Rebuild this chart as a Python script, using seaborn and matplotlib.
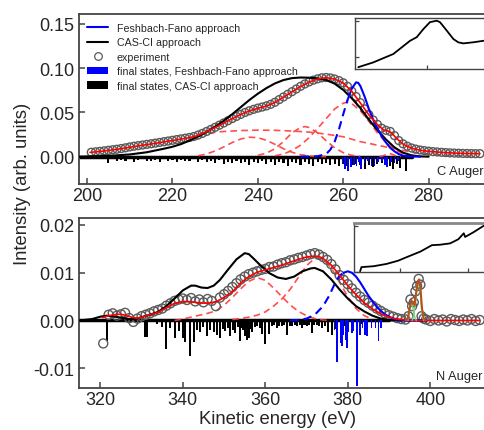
import numpy as np
import matplotlib
matplotlib.use('Agg')
import matplotlib.pyplot as plt
import seaborn as sns
from matplotlib.lines import Line2D
from matplotlib.patches import Patch

# ---------------- C Auger (top panel) ----------------
c_exp_E = [201, 202, 203, 204, 205, 206, 207, 208, 209, 210, 211, 212, 213, 214, 215, 216, 217, 218, 219, 220,
           221, 222, 223, 224, 225, 226, 227, 228, 229, 230, 231, 232, 233, 234, 235, 236, 237, 238, 239, 240,
           241, 242, 243, 244, 245, 246, 247, 248, 249, 250, 251, 252, 253, 254, 255, 256, 257, 258, 259, 260,
           261, 262, 263, 264, 265, 266, 267, 268, 269, 270, 271, 272, 273, 274, 275, 276, 277, 278, 279, 280,
           281, 282, 283, 284, 285, 286, 287, 288, 289, 290, 291, 292]
c_exp_I = [0.0050, 0.0055, 0.0060, 0.0066, 0.0072, 0.0078, 0.0084, 0.0092, 0.0100, 0.0110, 0.0118, 0.0125, 0.0132, 0.0139, 0.0146, 0.0153, 0.0161, 0.0169, 0.0177, 0.0185,
           0.0193, 0.0201, 0.0209, 0.0217, 0.0228, 0.0244, 0.0263, 0.0285, 0.0308, 0.0332, 0.0356, 0.0381, 0.0406, 0.0431, 0.0455, 0.0478, 0.0500, 0.0519, 0.0535, 0.0549,
           0.0561, 0.0574, 0.0592, 0.0615, 0.0645, 0.0675, 0.0705, 0.0735, 0.0765, 0.0795, 0.0822, 0.0845, 0.0865, 0.0880, 0.0892, 0.0895, 0.0890, 0.0878, 0.0860, 0.0835,
           0.0795, 0.0740, 0.0680, 0.0610, 0.0540, 0.0475, 0.0415, 0.0365, 0.0322, 0.0298, 0.0285, 0.0238, 0.0182, 0.0145, 0.0118, 0.0098, 0.0085, 0.0075, 0.0068, 0.0062,
           0.0057, 0.0053, 0.0049, 0.0046, 0.0043, 0.0041, 0.0039, 0.0037, 0.0036, 0.0035, 0.0034, 0.0034]

c_fit_E = [200.7, 204, 208, 212, 216, 220, 224, 226, 228, 230, 232, 234, 236, 238, 240, 242, 244, 246, 248, 250,
           252, 254, 256, 258, 260, 262, 264, 266, 268, 269.5, 270.5, 271.3, 272.5, 274, 276, 278, 280, 284, 288, 292]
c_fit_I = [0.0048, 0.0064, 0.0090, 0.0122, 0.0151, 0.0183, 0.0215, 0.0240, 0.0282, 0.0330, 0.0380, 0.0430, 0.0477, 0.0517, 0.0547, 0.0572, 0.0613, 0.0673, 0.0733, 0.0793,
           0.0843, 0.0878, 0.0893, 0.0877, 0.0833, 0.0738, 0.0608, 0.0473, 0.0362, 0.0300, 0.0290, 0.0270, 0.0205, 0.0142, 0.0095, 0.0073, 0.0060, 0.0045, 0.0037, 0.0034]

c_cas_E = [198, 202, 206, 210, 214, 218, 220, 222, 224, 226, 228, 230, 232, 234, 236, 238, 240, 242, 244, 246,
           248, 250, 252, 254, 256, 258, 260, 262, 264, 266, 268, 270, 272, 274, 276, 278, 280]
c_cas_I = [0.0, 0.0005, 0.0012, 0.0025, 0.0050, 0.0090, 0.0112, 0.0142, 0.0182, 0.0228, 0.0280, 0.0338, 0.0405, 0.0480, 0.0560, 0.0640, 0.0712, 0.0775, 0.0828, 0.0866,
           0.0888, 0.0895, 0.0893, 0.0885, 0.0868, 0.0825, 0.0755, 0.0660, 0.0550, 0.0420, 0.0300, 0.0195, 0.0105, 0.0045, 0.0015, 0.0003, 0.0]

c_ff_dash_E = [250, 254, 256, 257, 258, 259, 260, 261]
c_ff_dash_I = [0.0, 0.0005, 0.0030, 0.0080, 0.0170, 0.0310, 0.0480, 0.0640]
c_ff_E = [261, 262, 263, 263.5, 264, 265, 266, 267, 268, 269, 270, 271, 272, 273, 274, 276, 278]
c_ff_I = [0.0640, 0.0770, 0.0840, 0.0835, 0.0800, 0.0680, 0.0540, 0.0420, 0.0320, 0.0230, 0.0160, 0.0100, 0.0060, 0.0030, 0.0012, 0.0002, 0.0]

# fitted components (red dashed)
c_compA_E = [226, 228, 232, 236, 240, 244, 248, 252, 256, 260, 264, 268, 272, 276, 280, 284, 290]
c_compA_I = [0.0255, 0.0265, 0.0285, 0.0295, 0.0300, 0.0298, 0.0290, 0.0278, 0.0255, 0.0225, 0.0170, 0.0130, 0.0090, 0.0050, 0.0030, 0.0015, 0.0005]
c_compB_E = [226, 228, 230, 232, 234, 236, 238, 240, 242, 244, 246, 248, 250, 252, 254, 256]
c_compB_I = [0.0010, 0.0030, 0.0065, 0.0110, 0.0160, 0.0200, 0.0220, 0.0215, 0.0185, 0.0140, 0.0090, 0.0050, 0.0022, 0.0008, 0.0002, 0.0]
c_compC_E = [240, 242, 244, 246, 248, 250, 251, 252, 254, 256, 258, 260, 262, 264]
c_compC_I = [0.0015, 0.0040, 0.0090, 0.0170, 0.0270, 0.0330, 0.0340, 0.0330, 0.0270, 0.0180, 0.0100, 0.0045, 0.0015, 0.0004]
c_compD_E = [244, 246, 248, 250, 252, 254, 256, 258, 260, 261, 262, 264, 266, 268, 270, 272, 274, 276, 278]
c_compD_I = [0.0010, 0.0030, 0.0070, 0.0130, 0.0215, 0.0320, 0.0430, 0.0540, 0.0605, 0.0615, 0.0600, 0.0520, 0.0400, 0.0270, 0.0160, 0.0080, 0.0035, 0.0012, 0.0003]
c_compE_E = [268.5, 269.5, 270.3, 270.9, 271.6, 272.5, 273.5]
c_compE_I = [0.0, 0.0012, 0.0030, 0.0035, 0.0024, 0.0006, 0.0]

# final states (sticks, plotted downward)
c_cas_st_E = [205, 206, 207, 208, 209, 210, 211, 212, 213, 214, 215, 216, 217, 218, 219, 220, 221, 222, 223, 224,
              225, 226, 227, 228, 229, 230, 231, 232, 233, 234, 235, 236, 237, 238, 239, 240, 241, 242, 243, 244,
              245, 246, 247, 248, 249, 250, 251, 252, 253, 254, 255, 256, 257, 258, 259, 260, 261, 262, 263, 264,
              265, 266, 267, 268, 269, 270, 271, 271.7, 272.5, 273.3, 274.6]
c_cas_st_h = [0.0067, 0.0030, 0.0045, 0.0035, 0.0050, 0.0030, 0.0055, 0.0040, 0.0030, 0.0050, 0.0045, 0.0035, 0.0055, 0.0030, 0.0050, 0.0040, 0.0060, 0.0035, 0.0050, 0.0045,
              0.0030, 0.0055, 0.0040, 0.0060, 0.0045, 0.0070, 0.0040, 0.0080, 0.0055, 0.0070, 0.0045, 0.0075, 0.0060, 0.0090, 0.0055, 0.0070, 0.0050, 0.0080, 0.0065, 0.0090,
              0.0055, 0.0075, 0.0100, 0.0060, 0.0075, 0.0090, 0.0065, 0.0080, 0.0100, 0.0065, 0.0085, 0.0070, 0.0095, 0.0080, 0.0105, 0.0085, 0.0110, 0.0090, 0.0080, 0.0095,
              0.0135, 0.0090, 0.0115, 0.0085, 0.0075, 0.0065, 0.0105, 0.0145, 0.0085, 0.0125, 0.0165]
c_ff_st_E = [259.8, 260.4, 261.1, 261.9, 262.5, 263.1, 263.7, 264.2, 265.0, 265.8, 266.6, 267.3, 268.2, 269.0, 269.7, 270.3, 271.2, 272.0, 272.8]
c_ff_st_h = [0.008, 0.014, 0.016, 0.012, 0.009, 0.010, 0.006, 0.014, 0.007, 0.005, 0.010, 0.011, 0.006, 0.005, 0.009, 0.012, 0.006, 0.007, 0.005]

# inset (arbitrary units)
c_in_x = [0.23, 1.27, 2.67, 3.25, 3.83, 4.30, 4.76, 5.22, 5.69, 5.92, 6.39, 6.85, 7.19, 7.54, 8.24, 8.93, 9.6]
c_in_y = [-0.27, -0.14, 0.09, 0.27, 0.45, 0.55, 0.77, 0.96, 1.00, 0.96, 0.73, 0.50, 0.41, 0.38, 0.41, 0.45, 0.48]

# ---------------- N Auger (bottom panel) ----------------
n_exp_E = [320.7, 322, 323, 324, 325, 326, 327, 328, 329, 330, 331, 332, 333, 334, 335, 336, 337, 338, 339, 340,
           341, 342, 343, 344, 345, 346, 347, 348, 349, 350, 351, 352, 353, 354, 355, 356, 357, 358, 359, 360,
           361, 362, 363, 364, 365, 366, 367, 368, 369, 370, 371, 372, 373, 374, 375, 376, 377, 378, 379, 380,
           381, 382, 383, 384, 385, 386, 387, 388, 389, 390, 391, 392, 393, 394, 394.7, 395.2, 395.6, 396.0, 396.4, 396.8,
           397.2, 397.6, 397.9, 398.4, 399, 400, 401, 402, 403, 404, 405, 406, 407, 408, 409, 410, 411, 412]
n_exp_I = [-0.0048, 0.0012, 0.0015, 0.0010, 0.0013, 0.0016, 0.0005, -0.0003, 0.0004, 0.0009, 0.0012, 0.0015, 0.0019, 0.0022, 0.0025, 0.0031, 0.0036, 0.0041, 0.0044, 0.0046,
           0.0043, 0.0047, 0.0040, 0.0044, 0.0038, 0.0045, 0.0041, 0.0030, 0.0048, 0.0055, 0.0062, 0.0070, 0.0078, 0.0086, 0.0092, 0.0097, 0.0100, 0.0103, 0.0106, 0.0108,
           0.0112, 0.0113, 0.0117, 0.0120, 0.0122, 0.0126, 0.0128, 0.0131, 0.0133, 0.0136, 0.0139, 0.0141, 0.0138, 0.0133, 0.0127, 0.0118, 0.0107, 0.0095, 0.0085, 0.0076,
           0.0067, 0.0058, 0.0050, 0.0043, 0.0037, 0.0031, 0.0025, 0.0020, 0.0015, 0.0011, 0.0008, 0.0005, 0.0003, 0.0002, 0.0009, 0.0044, 0.0030, 0.0038, 0.0061, 0.0072,
           0.0087, 0.0075, 0.0009, 0.0004, 0.0002, -0.0001, 0.0003, 0.0000, 0.0002, -0.0002, 0.0003, 0.0001, -0.0001, 0.0002, 0.0000, 0.0003, -0.0001, 0.0001]

n_fit_E = [320.5, 322, 324, 325, 326, 328, 329, 330, 332, 334, 336, 338, 340, 342, 344, 346, 348, 350, 352, 354,
           356, 358, 360, 362, 364, 366, 368, 370, 372, 373, 374, 376, 378, 380, 382, 384, 386, 388, 390, 392, 394, 396, 412]
n_fit_I = [0.0006, 0.0010, 0.0013, 0.0013, 0.0011, 0.0006, 0.0005, 0.0007, 0.0012, 0.0017, 0.0027, 0.0036, 0.0040, 0.0039, 0.0037, 0.0036, 0.0039, 0.0048, 0.0060, 0.0078,
           0.0092, 0.0101, 0.0106, 0.0111, 0.0116, 0.0122, 0.0128, 0.0133, 0.0135, 0.0134, 0.0130, 0.0116, 0.0095, 0.0073, 0.0054, 0.0037, 0.0024, 0.0014, 0.0007, 0.0003, 0.0001, 0.0, 0.0]

n_cas_E = [315, 318, 320, 321.5, 323, 325, 327, 328.5, 330, 332, 334, 336, 338, 340, 342, 343, 344.5, 346, 347.5, 349,
           351, 353, 355, 356, 357, 359, 361, 363, 365, 367, 369, 371, 372, 374, 376, 378, 380, 382, 384, 386,
           388, 390, 392, 399]
n_cas_I = [0.0, 0.0003, 0.0008, 0.0010, 0.0009, 0.0006, 0.0003, 0.0003, 0.0007, 0.0012, 0.0018, 0.0030, 0.0046, 0.0063, 0.0073, 0.0073, 0.0069, 0.0068, 0.0073, 0.0085,
           0.0107, 0.0128, 0.0141, 0.0139, 0.0131, 0.0114, 0.0099, 0.0090, 0.0087, 0.0092, 0.0103, 0.0109, 0.0110, 0.0103, 0.0086, 0.0065, 0.0046, 0.0030, 0.0019, 0.0010,
           0.0004, 0.0001, 0.0, 0.0]

n_ff_dash_E = [366, 368, 370, 372, 374, 375.5, 377, 378, 379]
n_ff_dash_I = [0.0, 0.0001, 0.0004, 0.0012, 0.0030, 0.0052, 0.0080, 0.0094, 0.0100]
n_ff_E = [379, 380, 381, 382, 383, 384, 385, 386, 387, 388, 389, 390, 391, 392, 394, 399]
n_ff_I = [0.0100, 0.0103, 0.0100, 0.0092, 0.0080, 0.0066, 0.0052, 0.0040, 0.0029, 0.0020, 0.0013, 0.0008, 0.0004, 0.0002, 0.0, 0.0]

n_comp1_E = [338, 340, 342, 344, 346, 348, 350, 352, 354, 356, 358, 360, 362, 364, 366, 368, 370, 372, 374, 376]
n_comp1_I = [0.0, 0.0003, 0.0007, 0.0011, 0.0015, 0.0020, 0.0032, 0.0048, 0.0066, 0.0082, 0.0090, 0.0084, 0.0068, 0.0050, 0.0033, 0.0019, 0.0010, 0.0004, 0.0001, 0.0]
n_comp2_E = [352, 354, 356, 358, 360, 362, 364, 366, 368, 370, 372, 374, 376, 378, 380, 382, 384, 386]
n_comp2_I = [0.0002, 0.0004, 0.0007, 0.0011, 0.0018, 0.0030, 0.0045, 0.0065, 0.0090, 0.0115, 0.0130, 0.0128, 0.0110, 0.0080, 0.0050, 0.0025, 0.0010, 0.0003]

n_peak_E = [394.0, 394.5, 395.0, 395.4, 395.8, 396.2, 396.6, 397.0, 397.3, 397.6, 398.0, 398.4, 398.8]
n_peak_I = [0.0, 0.0003, 0.0025, 0.0043, 0.0035, 0.0032, 0.0060, 0.0082, 0.0086, 0.0070, 0.0025, 0.0005, 0.0]
n_g1_E = [394.6, 395.0, 395.4, 395.8, 396.2, 396.6]
n_g1_I = [0.0, 0.0022, 0.0040, 0.0025, 0.0008, 0.0]
n_g2_E = [395.6, 396.0, 396.4, 396.8, 397.2, 397.6, 398.0, 398.4]
n_g2_I = [0.0, 0.0010, 0.0035, 0.0068, 0.0083, 0.0055, 0.0015, 0.0]

n_cas_st_E = [321.6, 330.8, 331.2, 333.7, 335.0, 336.0, 337.0, 338.2, 339.0, 340.0, 340.6, 341.8, 342.6, 343.4, 344.2, 345.0, 345.9, 346.7, 347.5, 348.3,
              349.1, 349.7, 350.3, 350.9, 351.5, 352.1, 352.7, 353.3, 353.8, 354.3, 354.7, 355.2, 355.5, 356.0, 356.4, 356.8, 357.4, 358.0, 358.6, 359.2,
              360.0, 360.8, 361.6, 362.2, 362.8, 363.4, 364.0, 364.6, 365.3, 365.9, 366.5, 367.1, 367.7, 368.3, 368.9, 369.5, 370.1, 370.7, 371.3, 371.9,
              372.5, 373.1, 373.8, 374.5, 375.3, 376.2, 377.0, 379.0, 381.0, 383.5]
n_cas_st_h = [0.0043, 0.0034, 0.0034, 0.0008, 0.0013, 0.0059, 0.0015, 0.0036, 0.0023, 0.0036, 0.0046, 0.0075, 0.0044, 0.0020, 0.0025, 0.0013, 0.0033, 0.0019, 0.0025, 0.0030,
              0.0036, 0.0018, 0.0022, 0.0015, 0.0033, 0.0019, 0.0027, 0.0014, 0.0042, 0.0016, 0.0020, 0.0032, 0.0040, 0.0036, 0.0018, 0.0024, 0.0014, 0.0012, 0.0016, 0.0028,
              0.0050, 0.0028, 0.0012, 0.0010, 0.0015, 0.0011, 0.0012, 0.0010, 0.0030, 0.0011, 0.0012, 0.0009, 0.0012, 0.0010, 0.0015, 0.0009, 0.0012, 0.0010, 0.0027, 0.0009,
              0.0010, 0.0012, 0.0015, 0.0011, 0.0025, 0.0030, 0.0018, 0.0012, 0.0010, 0.0008]
n_ff_st_E = [376.8, 377.4, 378.2, 378.6, 379.0, 379.4, 379.8, 380.2, 381.0, 381.4, 382.2, 383.0, 383.6, 384.2, 384.6, 385.8, 386.7, 387.5, 388.0]
n_ff_st_h = [0.0020, 0.0087, 0.0048, 0.0054, 0.0030, 0.0040, 0.0058, 0.0025, 0.0026, 0.0022, 0.0137, 0.0030, 0.0015, 0.0031, 0.0033, 0.0015, 0.0015, 0.0042, 0.0015]

n_in_x = [0.41, 0.43, 0.61, 0.80, 0.97, 1.15, 1.30, 1.47, 1.59, 1.74, 1.86, 1.94, 1.96, 2.08, 2.23, 2.40]
n_in_y = [0.01, 0.10, 0.12, 0.17, 0.24, 0.35, 0.44, 0.58, 0.59, 0.62, 0.71, 0.84, 0.76, 0.86, 1.00, 1.10]

# ---------------- styling ----------------
sns.set_theme(style='ticks')
plt.rcParams['font.family'] = ['Liberation Sans', 'DejaVu Sans']
plt.rcParams['axes.unicode_minus'] = False

spine_col = '#444444'
exp_col = '#5a5a5a'
comp_col = '#ff3b3b'
dash_blue = (0, (4, 2.5))
dash_red = (0, (4, 2.5))

fig = plt.figure(figsize=(4.85, 4.31), dpi=100)
W, H = 485.0, 431.0
ax1 = fig.add_axes([78.5 / W, (H - 185) / H, 427 / W, 170 / H])
ax2 = fig.add_axes([78.5 / W, (H - 389.3) / H, 433 / W, 170 / H])


def style_main(ax):
    for side in ['left', 'bottom', 'top', 'right']:
        ax.spines[side].set_color(spine_col)
        ax.spines[side].set_linewidth(1.3)
    ax.tick_params(direction='in', length=4, width=1.1, color=spine_col, labelsize=13, pad=3)
    ax.tick_params(axis='x', pad=2)


def line(ax, x, y, **kw):
    sns.lineplot(x=x, y=y, ax=ax, sort=False, estimator=None, **kw)
    return ax.lines[-1]


# top panel
ax1.bar(c_cas_st_E, -np.array(c_cas_st_h), width=0.5, color='black', edgecolor='none', linewidth=0, zorder=1)
ax1.bar(c_ff_st_E, -np.array(c_ff_st_h), width=0.4, color='#0000ff', edgecolor='none', linewidth=0, zorder=1.5)
ax1.axhline(0, xmin=0, xmax=(276 - 198) / 100, color='black', lw=2.5, zorder=1)
for cx, cy in [(c_compA_E, c_compA_I), (c_compB_E, c_compB_I), (c_compC_E, c_compC_I),
               (c_compD_E, c_compD_I), (c_compE_E, c_compE_I)]:
    line(ax1, cx, cy, color=comp_col, lw=1.2, linestyle=dash_red, alpha=0.9, zorder=2)
sns.scatterplot(x=c_exp_E, y=c_exp_I, ax=ax1, marker='o', s=32, facecolor='none',
                edgecolor=exp_col, linewidth=1.0, zorder=3)
line(ax1, c_cas_E, c_cas_I, color='black', lw=1.5, zorder=4)
line(ax1, c_ff_dash_E, c_ff_dash_I, color='#0000ff', lw=1.5, linestyle=dash_blue, zorder=5)
line(ax1, c_ff_E, c_ff_I, color='#0000ff', lw=1.5, zorder=5)
line(ax1, c_fit_E, c_fit_I, color='red', lw=1.2, zorder=6)

ax1.set_xlim(198, 298)
ax1.set_ylim(-0.0309, 0.1613)
ax1.set_xticks([200, 220, 240, 260, 280])
ax1.set_yticks([0.0, 0.05, 0.10, 0.15])
ax1.set_yticklabels(['0.00', '0.05', '0.10', '0.15'])
style_main(ax1)
ax1.text((437 - 78.5) / 427, (185 - 172.5) / 170, 'C Auger', transform=ax1.transAxes,
         fontsize=9.3, va='center', ha='left')

handles = [Line2D([], [], color='#0000ff', lw=1.5),
           Line2D([], [], color='black', lw=1.5),
           Line2D([], [], ls='none', marker='o', mfc='none', mec=exp_col, ms=5.5, mew=0.9),
           Patch(facecolor='#0000ff', edgecolor='none'),
           Patch(facecolor='black', edgecolor='none')]
labels = ['Feshbach-Fano approach', 'CAS-CI approach', 'experiment',
          'final states, Feshbach-Fano approach', 'final states, CAS-CI approach']
ax1.legend(handles, labels, loc='upper left', bbox_to_anchor=((87 - 78.5) / 427, (185 - 24) / 170),
           frameon=False, fontsize=7.7, handlelength=2, handletextpad=0.8, labelspacing=0.42,
           borderpad=0, borderaxespad=0)

# bottom panel
ax2.bar(n_cas_st_E, -np.array(n_cas_st_h), width=0.5, color='black', edgecolor='none', linewidth=0, zorder=1)
ax2.bar(n_ff_st_E, -np.array(n_ff_st_h), width=0.38, color='#0000ff', edgecolor='none', linewidth=0, zorder=1.5)
ax2.axhline(0, xmin=0, xmax=(390 - 314.7) / 105, color='black', lw=2.5, zorder=1)
for cx, cy in [(n_comp1_E, n_comp1_I), (n_comp2_E, n_comp2_I)]:
    line(ax2, cx, cy, color=comp_col, lw=1.2, linestyle=dash_red, alpha=0.9, zorder=2)
sns.scatterplot(x=n_exp_E, y=n_exp_I, ax=ax2, marker='o', s=42, facecolor='none',
                edgecolor=exp_col, linewidth=1.0, zorder=3)
line(ax2, n_cas_E, n_cas_I, color='black', lw=1.5, zorder=4)
line(ax2, n_ff_dash_E, n_ff_dash_I, color='#0000ff', lw=1.5, linestyle=dash_blue, zorder=5)
line(ax2, n_ff_E, n_ff_I, color='#0000ff', lw=1.5, zorder=5)
line(ax2, n_fit_E, n_fit_I, color='red', lw=1.2, zorder=6)
line(ax2, n_g1_E, n_g1_I, color='#7ccf7c', lw=1.0, zorder=6)
line(ax2, n_g2_E, n_g2_I, color='#7ccf7c', lw=1.0, zorder=6)
line(ax2, n_peak_E, n_peak_I, color='#b5521b', lw=1.5, zorder=7)

ax2.set_xlim(314.7, 419.7)
ax2.set_ylim(-0.0142, 0.0214)
ax2.set_xticks([320, 340, 360, 380, 400])
ax2.set_yticks([-0.01, 0.0, 0.01, 0.02])
ax2.set_yticklabels(['-0.01', '0.00', '0.01', '0.02'])
style_main(ax2)
ax2.text((436 - 78.5) / 433, (389.3 - 377.5) / 170, 'N Auger', transform=ax2.transAxes,
         fontsize=9.3, va='center', ha='left')

# insets
in1 = fig.add_axes([355 / W, (H - 70) / H, 145 / W, 51 / H])
line(in1, c_in_x, c_in_y, color='black', lw=1.3)
in1.set_xlim(0, 10.1)
in1.set_ylim(-0.32, 1.074)
in1.set_xticks([5, 10])
in1.set_yticks([0, 1])

in2 = fig.add_axes([354 / W, (H - 272.7) / H, 145 / W, 48.7 / H])
line(in2, n_in_x, n_in_y, color='black', lw=1.3)
in2.set_xlim(0.32, 2.46)
in2.set_ylim(0, 1.065)
in2.set_xticks([1, 2])
in2.set_yticks([0, 1])

for ax in [in1, in2]:
    ax.set_xticklabels([])
    ax.set_yticklabels([])
    ax.tick_params(direction='in', length=3, width=0.9, color=spine_col)
    for side in ['left', 'bottom', 'right', 'top']:
        ax.spines[side].set_color(spine_col)
        ax.spines[side].set_linewidth(1.0)
in2.spines['top'].set_color('#888888')
in2.spines['top'].set_linewidth(2.0)

fig.text(23 / W, 1 - 184 / H, 'Intensity (arb. units)', rotation=90, fontsize=13.3,
         ha='center', va='center')
fig.text(278 / W, 1 - 420 / H, 'Kinetic energy (eV)', fontsize=13.3, ha='center', va='center')

fig.savefig('out.png', dpi=100)
